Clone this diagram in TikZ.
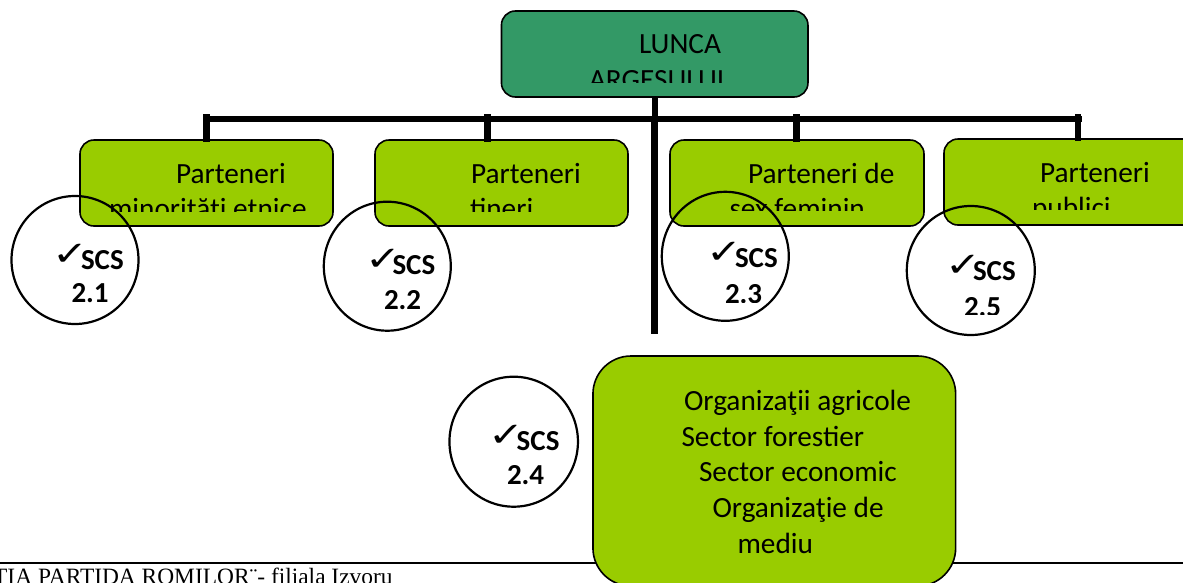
\documentclass[tikz,border=0pt]{standalone}
\usepackage{fontspec}
\setmainfont{Carlito}
\newfontfamily\checkfont{DejaVu Sans}
\newfontfamily\seriffont{Liberation Serif}
\usetikzlibrary{shapes.geometric}
\definecolor{limeg}{HTML}{99CC00}
\definecolor{teal1}{HTML}{339966}
\newcommand{\ticksign}{\scalebox{1.65}[1.3]{✓}}
\tikzset{
  box/.style={draw=black,line width=1.6pt,rounded corners=14pt,fill=limeg,inner sep=0pt,outer sep=0pt},
  txt/.style={anchor=base west,inner sep=0pt,outer sep=0pt,font=\fontsize{29.3}{31}\selectfont,text=black},
  btxt/.style={anchor=base west,inner sep=0pt,outer sep=0pt,font=\fontsize{29}{31}\selectfont\bfseries,text=black},
  chk/.style={anchor=base west,inner sep=0pt,outer sep=0pt,font=\fontsize{26}{28}\checkfont,text=black},
  ring/.style={draw=black,line width=2.2pt,ellipse,fill=none,inner sep=0pt,outer sep=0pt},
  bar/.style={draw=black,line width=6pt},
  stub/.style={draw=black,line width=6.6pt}
}
\begin{document}
\begin{tikzpicture}[x=1pt,y=-1pt]
\useasboundingbox (0,0) rectangle (1183,582);
% bottom rule and footer
\coordinate (ruleL) at (0,562.7);
\coordinate (ruleR) at (1183,562.7);
\draw[black,line width=1.8pt] (ruleL) -- (ruleR);
\begin{scope}
\clip (0,564) rectangle (1183,582);
\node[anchor=base west,inner sep=0pt,font=\fontsize{23.4}{24}\seriffont,text=black] (foot) at (-7,584) {TIA PARTIDA ROMILOR¨- filiala Izvoru};
\end{scope}
% boxes
\node[box,fill=teal1,minimum width=306.5pt,minimum height=86pt] (top) at (654.7,54) {};
\node[box,minimum width=253pt,minimum height=86pt] (b1) at (206.5,183) {};
\node[box,minimum width=253pt,minimum height=86pt] (b2) at (501.5,183) {};
\node[box,minimum width=254pt,minimum height=86pt] (b3) at (797,183) {};
\node[box,minimum width=254pt,minimum height=86pt] (b4) at (1071,182) {};
\node[box,rounded corners=38pt,minimum width=362.7pt,minimum height=230pt] (big) at (774.3,471) {};
% connectors
\coordinate (busL) at (204,118.7);
\coordinate (busR) at (1081.5,118.7);
\coordinate (busC) at (655,118.7);
\coordinate (s1) at (206.7,114);
\coordinate (s2) at (487.5,114);
\coordinate (s3) at (796.7,114);
\coordinate (s4) at (1078,114);
\coordinate (stemTop) at (654.3,121);
\coordinate (stemEnd) at (654.3,334);
\draw[bar] (busL) -- (busR);
\draw[bar] (top.south -| busC) -- (busC);
\draw[stub,line width=7pt] (stemTop) -- (stemEnd);
\draw[stub] (s1) -- ([yshift=-2pt]s1 |- b1.north);
\draw[stub] (s2) -- ([yshift=-2pt]s2 |- b2.north);
\draw[stub] (s3) -- ([yshift=-2pt]s3 |- b3.north);
\draw[stub] (s4) -- ([yshift=-2pt]s4 |- b4.north);
% box text
\node[txt] (t0a) at (639,53) {LUNCA};
\begin{scope}\clip (500,60) rectangle (810,82);
\node[txt] (t0b) at (589,89) {ARGESULUI};
\end{scope}
\node[txt] (t1a) at (176,183) {Parteneri};
\begin{scope}\clip (80,190) rectangle (333,211);
\node[txt] (t1b) at (109,218.5) {minorităţi etnice};
\end{scope}
\node[txt] (t2a) at (471,183) {Parteneri};
\begin{scope}\clip (375,190) rectangle (628,211);
\node[txt] (t2b) at (470,218.5) {tineri};
\end{scope}
\node[txt] (t3a) at (748,183) {Parteneri de};
\begin{scope}\clip (671,190) rectangle (923,210.5);
\node[txt] (t3b) at (729.5,218.5) {sex feminin};
\end{scope}
\node[txt] (t4a) at (1040,182) {Parteneri};
\begin{scope}\clip (945,190) rectangle (1183,209.5);
\node[txt] (t4b) at (1032,217.5) {publici};
\end{scope}
\node[txt] (t5a) at (684,410) {Organizaţii agricole};
\node[txt] (t5b) at (681.5,446) {Sector forestier};
\node[txt] (t5c) at (699,481.7) {Sector economic};
\node[txt] (t5d) at (712.5,517.3) {Organizaţie de};
\node[txt] (t5e) at (737.5,553.3) {mediu};
% circles
\node[ring,minimum width=127pt,minimum height=128pt] (c1) at (75,260) {};
\node[ring,minimum width=127pt,minimum height=129pt] (c2) at (387.3,266.2) {};
\node[ring,minimum width=127pt,minimum height=129pt] (c3) at (725.3,256.3) {};
\node[ring,minimum width=128pt,minimum height=129pt] (c5) at (970.8,270.5) {};
\node[ring,minimum width=128.5pt,minimum height=130pt] (c4) at (513.7,441.7) {};
% circle text
\node[chk] (k1) at (52.5,265) {\ticksign};
\node[btxt] (l1) at (81,269) {SCS};
\node[btxt] (n1) at (71.5,302.7) {2.1};
\node[chk] (k2) at (365,270) {\ticksign};
\node[btxt] (l2) at (392.5,274.3) {SCS};
\node[btxt] (n2) at (384,309) {2.2};
\node[chk] (k3) at (706,263) {\ticksign};
\node[btxt] (l3) at (735,267) {SCS};
\begin{scope}\clip (690,275) rectangle (790,302);
\node[btxt] (n3) at (725,303.5) {2.3};
\end{scope}
\node[chk] (k5) at (945.5,276.5) {\ticksign};
\node[btxt] (l5) at (973,280.7) {SCS};
\begin{scope}\clip (930,290) rectangle (1030,314);
\node[btxt] (n5) at (964,316) {2.5};
\end{scope}
\node[chk] (k4) at (488,446.5) {\ticksign};
\node[btxt] (l4) at (516.7,450.7) {SCS};
\node[btxt] (n4) at (507,484) {2.4};
\end{tikzpicture}
\end{document}
